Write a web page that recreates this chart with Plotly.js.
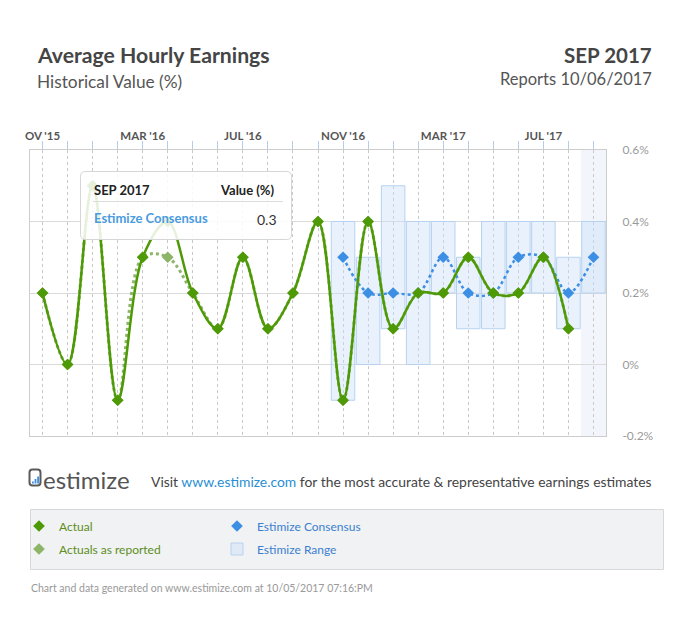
<!DOCTYPE html>
<html>
<head>
<meta charset="utf-8">
<script src="https://cdn.plot.ly/plotly-3.0.1.min.js"></script>
<style>
  html, body { margin: 0; padding: 0; background: #fff; }
  #chart { width: 685px; height: 620px; }
</style>
</head>
<body>
<div id="chart"></div>
<script>
// Monthly report periods (category axis)
const months = ["NOV '15","DEC '15","JAN '16","FEB '16","MAR '16","APR '16","MAY '16","JUN '16",
                "JUL '16","AUG '16","SEP '16","OCT '16","NOV '16","DEC '16","JAN '17","FEB '17",
                "MAR '17","APR '17","MAY '17","JUN '17","JUL '17","AUG '17","SEP '17"];
// Top axis labels, one every four months
const monthLabels = ["OV '15","","","","MAR '16","","","","JUL '16","","","","NOV '16","","","",
                     "MAR '17","","","","JUL '17","",""];

// Average hourly earnings, month-over-month change (%)
const actual     = [0.2, 0.0, 0.5, -0.1, 0.3, 0.4, 0.2, 0.1, 0.3, 0.1, 0.2, 0.4,
                    -0.1, 0.4, 0.1, 0.2, 0.2, 0.3, 0.2, 0.2, 0.3, 0.1, null];
const asReported = [0.2, 0.0, 0.5, -0.1, 0.3, 0.3, 0.2, 0.1, 0.3, 0.1, 0.2, 0.4,
                    -0.1, 0.4, 0.1, 0.2, 0.2, 0.3, 0.2, 0.2, 0.3, 0.1, null];
const consensus  = [null, null, null, null, null, null, null, null, null, null, null, null,
                    0.3, 0.2, 0.2, 0.2, 0.3, 0.2, 0.2, 0.3, 0.3, 0.2, 0.3];
const rangeLow   = [null, null, null, null, null, null, null, null, null, null, null, null,
                    -0.1, 0.0, 0.1, 0.0, 0.2, 0.1, 0.1, 0.2, 0.2, 0.1, 0.2];
const rangeHigh  = [null, null, null, null, null, null, null, null, null, null, null, null,
                    0.4, 0.3, 0.5, 0.4, 0.4, 0.3, 0.4, 0.4, 0.4, 0.3, 0.4];

// Right-hand value axis
const yTicks = [-0.2, 0, 0.2, 0.4, 0.6];
const yTickLabels = ["-0.2%", "0%", "0.2%", "0.4%", "0.6%"];

const FONT = "Lato, 'Open Sans', sans-serif";
const GREEN = "#4e9a06";
const LIGHT_GREEN = "#8cb568";
const BLUE = "#3d8fe4";

// Plot area in page pixels; helpers convert page pixels to paper coordinates
const AREA = { l: 30, r: 606, t: 150, b: 436 };
const fx = x => (x - AREA.l) / (AREA.r - AREA.l);
const fy = y => (AREA.b - y) / (AREA.b - AREA.t);

function roundRectPath(x0, y0, x1, y1, r) {
  const P = (x, y) => fx(x).toFixed(5) + "," + fy(y).toFixed(5);
  return "M" + P(x0 + r, y0) + " L" + P(x1 - r, y0) + " Q" + P(x1, y0) + " " + P(x1, y0 + r) +
         " L" + P(x1, y1 - r) + " Q" + P(x1, y1) + " " + P(x1 - r, y1) +
         " L" + P(x0 + r, y1) + " Q" + P(x0, y1) + " " + P(x0, y1 - r) +
         " L" + P(x0, y0 + r) + " Q" + P(x0, y0) + " " + P(x0 + r, y0) + " Z";
}

const rangeSpan = rangeHigh.map((h, i) => (h === null || rangeLow[i] === null) ? null : +(h - rangeLow[i]).toFixed(3));
const last = months.length - 1;

const traces = [
  {
    type: "bar", x: months, y: rangeSpan, base: rangeLow, width: 0.94,
    marker: { color: "rgba(200,222,247,0.42)", line: { color: "#b7d2f0", width: 1 } },
    name: '<span style="color:#3b7fd0">Estimize Range</span>',
    legend: "legend2", legendrank: 2, hoverinfo: "skip"
  },
  {
    type: "scatter", mode: "lines", x: months, y: consensus,
    line: { color: BLUE, width: 2.5, dash: "dot", shape: "spline" },
    showlegend: false, hoverinfo: "skip"
  },
  {
    type: "scatter", mode: "markers", x: months, y: consensus,
    marker: { symbol: "diamond", size: 9, color: BLUE },
    name: '<span style="color:#3b7fd0">Estimize Consensus</span>',
    legend: "legend", legendrank: 2, hoverinfo: "skip"
  },
  {
    type: "scatter", mode: "lines", x: months, y: asReported,
    line: { color: LIGHT_GREEN, width: 3, dash: "dot", shape: "spline" },
    showlegend: false, hoverinfo: "skip"
  },
  {
    type: "scatter", mode: "markers", x: months, y: asReported,
    marker: { symbol: "diamond", size: 9, color: LIGHT_GREEN },
    name: '<span style="color:#5b8e22">Actuals as reported</span>',
    legend: "legend2", legendrank: 1, hoverinfo: "skip"
  },
  {
    type: "scatter", mode: "lines", x: months, y: actual,
    line: { color: GREEN, width: 2.5, shape: "spline" },
    showlegend: false, hoverinfo: "skip"
  },
  {
    type: "scatter", mode: "markers", x: months, y: actual,
    marker: { symbol: "diamond", size: 9, color: GREEN },
    name: '<span style="color:#5b8e22">Actual</span>',
    legend: "legend", legendrank: 1, hoverinfo: "skip"
  }
];

function note(text, x, y, opts) {
  return Object.assign({
    text: text, xref: "paper", yref: "paper", x: fx(x), y: fy(y),
    xanchor: "left", yanchor: "middle", showarrow: false,
    font: { family: FONT, size: 13, color: "#444" }
  }, opts || {});
}

const annotations = [
  note("<b>Average Hourly Earnings</b>", 35, 55, { font: { family: FONT, size: 21.2, color: "#454545" } }),
  note("Historical Value (%)", 35, 81, { font: { family: FONT, size: 17.3, color: "#555" } }),
  note("<b>SEP 2017</b>", 654, 55, { xanchor: "right", font: { family: FONT, size: 20.5, color: "#454545" } }),
  note("Reports 10/06/2017", 654, 79, { xanchor: "right", font: { family: FONT, size: 16.5, color: "#555" } }),

  // tooltip for the upcoming period
  note("<b>SEP 2017</b>", 92, 190, { font: { family: FONT, size: 13, color: "#222" } }),
  note("<b>Value (%)</b>", 277, 190, { xanchor: "right", font: { family: FONT, size: 13, color: "#222" } }),
  note("<b>Estimize Consensus</b>", 92, 218, { font: { family: FONT, size: 13, color: "#4a9be0" } }),
  note(consensus[last].toFixed(1), 279, 219, { xanchor: "right", font: { family: FONT, size: 14, color: "#333" } }),

  // branding and footer
  note("estimize", 41, 479, { font: { family: FONT, size: 24, color: "#555" } }),
  note('Visit <span style="color:#2a8fd2">www.estimize.com</span> for the most accurate &amp; representative earnings estimates',
       149, 481, { font: { family: FONT, size: 13.9, color: "#444" } }),
  note("Chart and data generated on www.estimize.com at 10/05/2017 07:16:PM", 29, 588,
       { font: { family: FONT, size: 10.5, color: "#999" } })
];

const shapes = [
  // highlight column for the period being forecast
  { type: "rect", xref: "x", yref: "paper", x0: last - 0.5, x1: last + 0.5, y0: 0, y1: 1,
    fillcolor: "rgba(226,236,248,0.45)", line: { width: 0 }, layer: "below" },
  // tooltip box
  { type: "path", xref: "paper", yref: "paper", path: roundRectPath(80.5, 171.5, 291.5, 239.5, 5),
    fillcolor: "rgba(255,255,255,0.86)", line: { color: "#d6d6d6", width: 1 }, layer: "above" },
  { type: "line", xref: "paper", yref: "paper", x0: fx(93), x1: fx(283), y0: fy(201.5), y1: fy(201.5),
    line: { color: "#dcdcdc", width: 1 }, layer: "above" },
  // logo mark
  { type: "path", xref: "paper", yref: "paper", path: roundRectPath(29.5, 469.5, 40.5, 485.5, 3),
    fillcolor: "rgba(0,0,0,0)", line: { color: "#5a5a5a", width: 2 }, layer: "above" },
  { type: "rect", xref: "paper", yref: "paper", x0: fx(32), x1: fx(33.8), y0: fy(483.5), y1: fy(481.5),
    fillcolor: "#3d8fe4", line: { width: 0 } },
  { type: "rect", xref: "paper", yref: "paper", x0: fx(34.6), x1: fx(36.4), y0: fy(483.5), y1: fy(479),
    fillcolor: "#3d8fe4", line: { width: 0 } },
  { type: "rect", xref: "paper", yref: "paper", x0: fx(37.2), x1: fx(39), y0: fy(483.5), y1: fy(476.5),
    fillcolor: "#3d8fe4", line: { width: 0 } },
  // legend panel
  { type: "rect", xref: "paper", yref: "paper", x0: fx(30.5), x1: fx(663.5), y0: fy(569.5), y1: fy(509.5),
    fillcolor: "#f1f2f4", line: { color: "#d6d8db", width: 1 }, layer: "below" }
];

const legendBase = {
  orientation: "h", xanchor: "left", yanchor: "top", x: fx(19),
  entrywidth: 153, bgcolor: "rgba(0,0,0,0)", borderwidth: 0,
  font: { family: FONT, size: 12 }, itemclick: false, itemdoubleclick: false
};

const layout = {
  width: 685, height: 620,
  margin: { l: AREA.l, r: 685 - AREA.r, t: AREA.t, b: 620 - AREA.b, pad: 0 },
  paper_bgcolor: "#fff", plot_bgcolor: "#fff",
  font: { family: FONT, color: "#444" },
  hovermode: false, dragmode: false, barmode: "overlay",
  xaxis: {
    type: "category", categoryorder: "array", categoryarray: months,
    range: [-0.5, last + 0.5], side: "top",
    tickmode: "array", tickvals: months, ticktext: monthLabels.map(t => t ? "<b>" + t + "</b>" : ""),
    ticks: "outside", ticklen: 8, tickwidth: 1, tickcolor: "#b8cce8",
    ticklabelstandoff: -4,
    tickfont: { family: FONT, size: 11.5, color: "#555" },
    showgrid: true, gridcolor: "#c9c9c9", griddash: "dot", gridwidth: 1,
    showline: true, linecolor: "#cccccc", linewidth: 1, mirror: true,
    zeroline: false, fixedrange: true
  },
  yaxis: {
    range: [-0.2, 0.6], side: "right",
    tickmode: "array", tickvals: yTicks, ticktext: yTickLabels,
    ticks: "", ticklabelstandoff: 13,
    tickfont: { family: FONT, size: 12, color: "#9a9a9a" },
    showgrid: true, gridcolor: "#dadada", gridwidth: 1,
    showline: true, linecolor: "#cccccc", linewidth: 1, mirror: true,
    zeroline: false, fixedrange: true
  },
  legend: Object.assign({}, legendBase, { y: fy(511.5) }),
  legend2: Object.assign({}, legendBase, { y: fy(534.5) }),
  annotations: annotations,
  shapes: shapes
};

Plotly.newPlot("chart", traces, layout, { staticPlot: true, displayModeBar: false });
</script>
</body>
</html>
